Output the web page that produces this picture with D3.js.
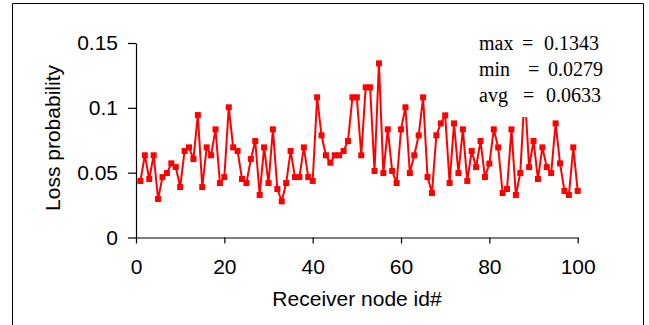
<!DOCTYPE html>
<html>
<head>
<meta charset="utf-8">
<script src="https://cdn.jsdelivr.net/npm/d3@7/dist/d3.min.js"></script>
<style>
	body { margin: 0; background: #fff; }
	svg { display: block; }
</style>
</head>
<body>
<div id="chart"></div>
<script>
// receiver node ids (x) and measured loss probability (y)
const nodeIds = [
	1, 2, 3, 4, 5, 6, 7, 8, 9, 10, 11, 12, 13, 14, 15, 16, 17, 18, 19, 20,
	21, 22, 23, 24, 25, 26, 27, 28, 29, 30, 31, 32, 33, 34, 35, 36, 37, 38, 39, 40,
	41, 42, 43, 44, 45, 46, 47, 48, 49, 50, 51, 52, 53, 54, 55, 56, 57, 58, 59, 60,
	61, 62, 63, 64, 65, 66, 67, 68, 69, 70, 71, 72, 73, 74, 75, 76, 77, 78, 79, 80,
	81, 82, 83, 84, 85, 86, 87, 88, 89, 90, 91, 92, 93, 94, 95, 96, 97, 98, 99, 100
];
const lossValues = [
	0.0436, 0.0634, 0.0451, 0.0634, 0.0297, 0.0466, 0.0497, 0.0572, 0.0543, 0.0389,
	0.0667, 0.0695, 0.0605, 0.0944, 0.0389, 0.0695, 0.0634, 0.0834, 0.0420, 0.0466,
	0.1004, 0.0695, 0.0667, 0.0451, 0.0420, 0.0605, 0.0744, 0.0328, 0.0695, 0.0420,
	0.0834, 0.0374, 0.0279, 0.0420, 0.0667, 0.0466, 0.0466, 0.0695, 0.0466, 0.0436,
	0.1081, 0.0788, 0.0634, 0.0577, 0.0634, 0.0634, 0.0667, 0.0744, 0.1081, 0.1081,
	0.0634, 0.1158, 0.1158, 0.0513, 0.1343, 0.0497, 0.0834, 0.0513, 0.0420, 0.0834,
	0.1004, 0.0497, 0.0634, 0.0788, 0.1081, 0.0466, 0.0343, 0.0788, 0.0880, 0.0942,
	0.0420, 0.0880, 0.0497, 0.0834, 0.0436, 0.0667, 0.0543, 0.0744, 0.0466, 0.0570,
	0.0834, 0.0695, 0.0343, 0.0374, 0.0834, 0.0328, 0.0497, 0.1120, 0.0543, 0.0744,
	0.0451, 0.0695, 0.0543, 0.0497, 0.0880, 0.0572, 0.0359, 0.0328, 0.0695, 0.0359
];

const xTicks = [0, 20, 40, 60, 80, 100];
const yTicks = [0, 0.05, 0.1, 0.15];
const yTickLabels = ['0', '0.05', '0.1', '0.15'];

const statNames = ['max', 'min', 'avg'];
const statValues = ['0.1343', '0.0279', '0.0633'];

//
// layout
//
const width = 649;
const height = 325;
const plot = { left: 136, right: 577.7, top: 43, bottom: 237.5 };
const axisFont = '"Liberation Sans", Arial, sans-serif';
const statFont = '"Liberation Serif", "Times New Roman", serif';

const svg = d3.select('#chart').append('svg')
	.attr('width', width)
	.attr('height', height);

svg.append('rect')
	.attr('width', width).attr('height', height)
	.attr('fill', '#fff');

// outer frame (bottom edge is cut off in the picture)
svg.append('path')
	.attr('d', 'M12.5,' + height + 'V3.5H643.5V' + height)
	.attr('fill', 'none')
	.attr('stroke', '#000')
	.attr('stroke-width', 1);

const x = d3.scaleLinear().domain([0, 100]).range([plot.left, plot.right]);
const y = d3.scaleLinear().domain([0, 0.15]).range([plot.bottom, plot.top]);

//
// axes
//
const xAxis = svg.append('g')
	.attr('transform', 'translate(0,' + plot.bottom + ')')
	.call(d3.axisBottom(x).tickValues(xTicks).tickSize(6).tickSizeOuter(0).tickPadding(16));

const yAxis = svg.append('g')
	.attr('transform', 'translate(' + plot.left + ',0)')
	.call(d3.axisLeft(y).tickValues(yTicks).tickSize(8).tickSizeOuter(0).tickPadding(10)
		.tickFormat((d, i) => yTickLabels[i]));

[xAxis, yAxis].forEach(a => {
	a.select('.domain').attr('stroke', '#000').attr('stroke-width', 1.2);
	a.selectAll('.tick line').attr('stroke', '#000').attr('stroke-width', 1.2);
	a.selectAll('.tick text')
		.attr('fill', '#000')
		.style('font-family', axisFont)
		.style('font-size', '21px');
});

svg.append('text')
	.attr('x', 357)
	.attr('y', 306)
	.attr('text-anchor', 'middle')
	.style('font-family', axisFont)
	.style('font-size', '21px')
	.text('Receiver node id#');

svg.append('text')
	.attr('transform', 'translate(60,138) rotate(-90)')
	.attr('text-anchor', 'middle')
	.style('font-family', axisFont)
	.style('font-size', '21px')
	.text('Loss probability');

//
// series
//
const points = nodeIds.map((id, i) => ({ id: id, v: lossValues[i] }));

const line = d3.line()
	.x(d => x(d.id))
	.y(d => y(d.v));

svg.append('path')
	.datum(points)
	.attr('d', line)
	.attr('fill', 'none')
	.attr('stroke', '#ff0000')
	.attr('stroke-width', 2);

const mk = 6;
svg.selectAll('rect.marker')
	.data(points)
	.enter()
	.append('rect')
	.attr('class', 'marker')
	.attr('x', d => x(d.id) - mk / 2)
	.attr('y', d => y(d.v) - mk / 2)
	.attr('width', mk)
	.attr('height', mk)
	.attr('fill', '#ff0000');

//
// statistics box (opaque, covers the line underneath)
//
svg.append('rect')
	.attr('x', 470).attr('y', 28)
	.attr('width', 142).attr('height', 89)
	.attr('fill', '#fff');

const statRows = [
	{ base: 50, eq: 522, val: 544 },
	{ base: 76, eq: 528, val: 548 },
	{ base: 102, eq: 523, val: 546 }
];

const stats = svg.append('g')
	.style('font-family', statFont)
	.style('font-size', '20px')
	.attr('fill', '#000');

statNames.forEach((name, i) => {
	const r = statRows[i];
	stats.append('text').attr('x', 479).attr('y', r.base).text(name);
	stats.append('text').attr('x', r.eq).attr('y', r.base).text('=');
	stats.append('text').attr('x', r.val).attr('y', r.base).text(statValues[i]);
});
</script>
</body>
</html>
